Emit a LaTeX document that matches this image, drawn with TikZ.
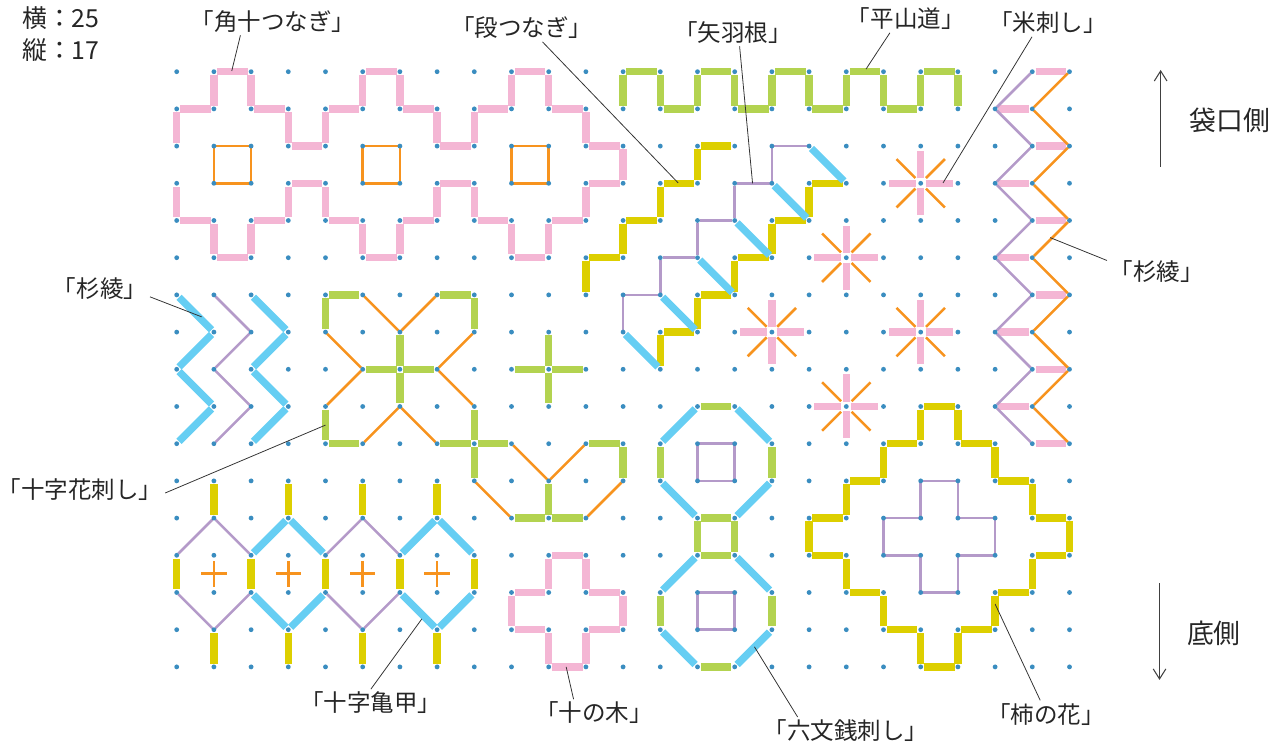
\documentclass[tikz,border=0pt]{standalone}
\usepackage{fontspec}
\newfontfamily\jpfont{Noto Sans CJK JP}
\usepackage{tikz}
\usetikzlibrary{arrows.meta}

\definecolor{stpink}{HTML}{F4B6D4}
\definecolor{storange}{HTML}{F7931E}
\definecolor{stgreen}{HTML}{B3D350}
\definecolor{styellow}{HTML}{DDCF00}
\definecolor{stblue}{HTML}{66CEF3}
\definecolor{stpurple}{HTML}{B49AC9}
\definecolor{dotblue}{HTML}{3A8DC0}

\tikzset{
  stitchbar/.style={line width=0.196cm, shorten >=0.09cm, shorten <=0.09cm},
  thread/.style={line width=0.068cm, shorten >=0.06cm, shorten <=0.06cm},
  pinkbar/.style={stitchbar, draw=stpink},
  greenbar/.style={stitchbar, draw=stgreen},
  yellowbar/.style={stitchbar, draw=styellow},
  bluebar/.style={stitchbar, draw=stblue},
  purpleline/.style={thread, draw=stpurple},
  orangeline/.style={thread, draw=storange},
  outline/.style={line width=0.068cm},
  lbl/.style={font=\jpfont\fontsize{18}{20}\selectfont, text=black!85, inner sep=2pt},
  sidelbl/.style={font=\jpfont\fontsize{20.5}{23}\selectfont, text=black!85, inner sep=0pt},
  countlbl/.style={font=\jpfont\fontsize{19}{21}\selectfont, text=black!85, inner sep=0pt, anchor=west},
  leader/.style={draw=black!80, line width=0.6pt},
  sidearrow/.style={draw=black!75, line width=0.8pt, -{Straight Barb[length=0.27cm,width=0.34cm]}}
}

% one stitch per step of a run of grid points
\newcommand\stitchrun[2]{%
  \foreach \sx/\sy [count=\si, remember=\sx as \px (initially 0), remember=\sy as \py (initially 0)] in {#2}{%
    \ifnum\si>1 \draw[#1] (\px,\py) -- (\sx,\sy);\fi}}

\begin{document}
\begin{tikzpicture}[x=1cm, y=-1cm]
  \useasboundingbox (-4.750,-1.927) rectangle (29.605,18.153);

  % 角十つなぎ
  \stitchrun{pinkbar}{0/2,0/1,1/1,1/0,2/0,2/1,3/1,3/2,4/2,4/1,5/1,5/0,6/0,6/1,7/1,7/2,8/2,8/1,9/1,9/0,10/0,10/1,11/1,11/2,12/2,12/3,11/3,11/4,10/4,10/5,9/5,9/4,8/4,8/3,7/3,7/4,6/4,6/5,5/5,5/4,4/4,4/3,3/3,3/4,2/4,2/5,1/5,1/4,0/4,0/3}
  \foreach \x in {1,5,9}
    \draw[outline, storange] (\x,2) rectangle (\x+1,3);

  % 平山道
  \stitchrun{greenbar}{12/1,12/0,13/0,13/1,14/1,14/0,15/0,15/1,16/1,16/0,17/0,17/1,18/1,18/0,19/0,19/1,20/1,20/0,21/0,21/1}

  % 段つなぎ
  \stitchrun{yellowbar}{15/2,14/2,14/3,13/3,13/4,12/4,12/5,11/5,11/6}
  \stitchrun{yellowbar}{18/3,17/3,17/4,16/4,16/5,15/5,15/6,14/6,14/7,13/7,13/8}

  % 矢羽根
  \foreach \k in {0,...,4} {
    \draw[purpleline] (16-\k,2+\k) -- (17-\k,2+\k);
    \draw[purpleline] (16-\k,2+\k) -- (16-\k,3+\k);
    \draw[bluebar] (17-\k,2+\k) -- (18-\k,3+\k);
  }
  \draw[bluebar] (12,7) -- (13,8);

  % 米刺し
  \foreach \x/\y in {20/3,18/5,16/7,20/7,18/9} {
    \foreach \a in {0,90,180,270}
      \draw[stpink, line width=0.196cm] (\x,\y) ++(\a:0.13) -- ++(\a:0.73);
    \foreach \a in {45,135,225,315}
      \draw[storange, line width=0.068cm] (\x,\y) ++(\a:0.2) -- ++(\a:0.72);
  }

  % 杉綾 (right)
  \foreach \r in {0,...,10} {
    \pgfmathtruncatemacro\s{mod(\r,2)}
    \draw[pinkbar] (23-\s,\r) -- (24-\s,\r);
  }
  \stitchrun{purpleline}{23/0,22/1,23/2,22/3,23/4,22/5,23/6,22/7,23/8,22/9,23/10}
  \stitchrun{orangeline}{24/0,23/1,24/2,23/3,24/4,23/5,24/6,23/7,24/8,23/9,24/10}

  % 杉綾 (left)
  \stitchrun{bluebar}{0/6,1/7,0/8,1/9,0/10}
  \stitchrun{purpleline}{1/6,2/7,1/8,2/9,1/10}
  \stitchrun{bluebar}{2/6,3/7,2/8,3/9,2/10}

  % 十字花刺し
  \foreach \x/\y in {6/8,10/8,8/10}
    \foreach \a in {0,90,180,270}
      \draw[greenbar] (\x,\y) -- ++(\a:1);
  \stitchrun{greenbar}{4/7,4/6,5/6}
  \stitchrun{greenbar}{7/6,8/6,8/7}
  \stitchrun{greenbar}{4/9,4/10,5/10}
  \stitchrun{greenbar}{11/10,12/10,12/11}
  \stitchrun{greenbar}{9/12,10/12,11/12}
  \draw[greenbar] (10,11) -- (10,12);
  \stitchrun{orangeline}{5/6,6/7,7/6}
  \stitchrun{orangeline}{4/7,5/8,4/9}
  \stitchrun{orangeline}{8/7,7/8,8/9}
  \stitchrun{orangeline}{5/10,6/9,7/10}
  \stitchrun{orangeline}{9/10,10/11,11/10}
  \draw[orangeline] (8,11) -- (9,12);
  \draw[orangeline] (12,11) -- (11,12);

  % 十字亀甲
  \foreach \x in {1,3,5,7} {
    \draw[yellowbar] (\x,11) -- (\x,12);
    \draw[yellowbar] (\x,15) -- (\x,16);
    \draw[storange, line width=0.075cm] (\x-0.34,13.5) -- (\x+0.34,13.5) (\x,13.16) -- (\x,13.84);
  }
  \foreach \x in {0,2,...,8}
    \draw[yellowbar] (\x,13) -- (\x,14);
  \foreach \x/\s in {1/purpleline,3/bluebar,5/purpleline,7/bluebar} {
    \draw[\s] (\x,12) -- (\x-1,13);
    \draw[\s] (\x,12) -- (\x+1,13);
    \draw[\s] (\x-1,14) -- (\x,15);
    \draw[\s] (\x+1,14) -- (\x,15);
  }

  % 十の木
  \stitchrun{pinkbar}{10/13,11/13,11/14,12/14,12/15,11/15,11/16,10/16,10/15,9/15,9/14,10/14,10/13}

  % 六文銭刺し
  \foreach \y in {9,13} {
    \draw[greenbar] (14,\y) -- (15,\y);
    \draw[greenbar] (14,\y+3) -- (15,\y+3);
    \draw[greenbar] (13,\y+1) -- (13,\y+2);
    \draw[greenbar] (16,\y+1) -- (16,\y+2);
    \draw[bluebar] (14,\y) -- (13,\y+1);
    \draw[bluebar] (15,\y) -- (16,\y+1);
    \draw[bluebar] (13,\y+2) -- (14,\y+3);
    \draw[bluebar] (16,\y+2) -- (15,\y+3);
    \draw[outline, stpurple] (14,\y+1) rectangle (15,\y+2);
  }
  \draw[greenbar] (14,12) -- (14,13);
  \draw[greenbar] (15,12) -- (15,13);

  % 柿の花
  \stitchrun{yellowbar}{20/9,21/9,21/10,22/10,22/11,23/11,23/12,24/12,24/13,23/13,23/14,22/14,22/15,21/15,21/16,20/16,20/15,19/15,19/14,18/14,18/13,17/13,17/12,18/12,18/11,19/11,19/10,20/10,20/9}
  \draw[outline, stpurple] (20,11) -- (21,11) -- (21,12) -- (22,12) -- (22,13) -- (21,13) -- (21,14) -- (20,14) -- (20,13) -- (19,13) -- (19,12) -- (20,12) -- cycle;

  % grid dots
  \foreach \x in {0,...,24}
    \foreach \y in {0,...,16}
      \fill[dotblue] (\x,\y) circle (0.065);

  % counts
  \node[countlbl] (yoko) at (-4.16,-1.444) {横：25};
  \node[countlbl] (tate) at (-4.16,-0.583) {縦：17};

  % labels
  \node[lbl] (kaku) at (2.59,-1.35) {「角十つなぎ」};
  \node[lbl] (dan) at (9.28,-1.175) {「段つなぎ」};
  \node[lbl] (yabane) at (14.95,-1.054) {「矢羽根」};
  \node[lbl] (hira) at (19.6,-1.417) {「平山道」};
  \node[lbl] (kome) at (23.42,-1.31) {「米刺し」};
  \node[lbl] (sugiR) at (26.35,5.385) {「杉綾」};
  \node[lbl] (sugiL) at (-2.06,5.84) {「杉綾」};
  \node[lbl] (hana) at (-2.6,11.245) {「十字花刺し」};
  \node[lbl] (kikko) at (5.22,16.97) {「十字亀甲」};
  \node[lbl] (junoki) at (11.22,17.24) {「十の木」};
  \node[lbl] (rokumon) at (17.99,17.72) {「六文銭刺し」};
  \node[lbl] (kaki) at (23.37,17.27) {「柿の花」};
  \node[sidelbl] (fukuro) at (28.31,1.30) {袋口側};
  \node[sidelbl] (soko) at (27.88,15.09) {底側};

  % leader ends
  \coordinate (kaku-pt) at (1.48,-0.02);
  \coordinate (dan-pt) at (13.48,2.99);
  \coordinate (yabane-pt) at (15.48,3.0);
  \coordinate (hira-pt) at (18.53,-0.07);
  \coordinate (kome-pt) at (20.6,2.99);
  \coordinate (sugiR-pt) at (23.48,4.46);
  \coordinate (sugiL-pt) at (0.67,6.59);
  \coordinate (hana-pt) at (4.0,9.5);
  \coordinate (kikko-pt) at (6.59,14.71);
  \coordinate (junoki-pt) at (10.47,16.0);
  \coordinate (rokumon-pt) at (15.53,15.46);
  \coordinate (kaki-pt) at (22.0,14.31);

  \draw[leader] (kaku.203) -- (kaku-pt);
  \draw[leader] (dan.326) -- (dan-pt);
  \draw[leader] (yabane.296) -- (yabane-pt);
  \draw[leader] (hira.221) -- (hira-pt);
  \draw[leader] (kome.221) -- (kome-pt);
  \draw[leader] (sugiR.167) -- (sugiR-pt);
  \draw[leader] (sugiL.351) -- (sugiL-pt);
  \draw[leader] (hana.358) -- (hana-pt);
  \draw[leader] (kikko.90) -- (kikko-pt);
  \draw[leader] (junoki.146) -- (junoki-pt);
  \draw[leader] (rokumon.164) -- (rokumon-pt);
  \draw[leader] (kaki.113) -- (kaki-pt);

  % bag direction
  \coordinate (up-a) at (26.45,2.554);
  \coordinate (up-b) at (26.45,-0.046);
  \coordinate (down-a) at (26.42,13.745);
  \coordinate (down-b) at (26.42,16.35);
  \draw[sidearrow] (up-a) -- (up-b);
  \draw[sidearrow] (down-a) -- (down-b);
\end{tikzpicture}
\end{document}
